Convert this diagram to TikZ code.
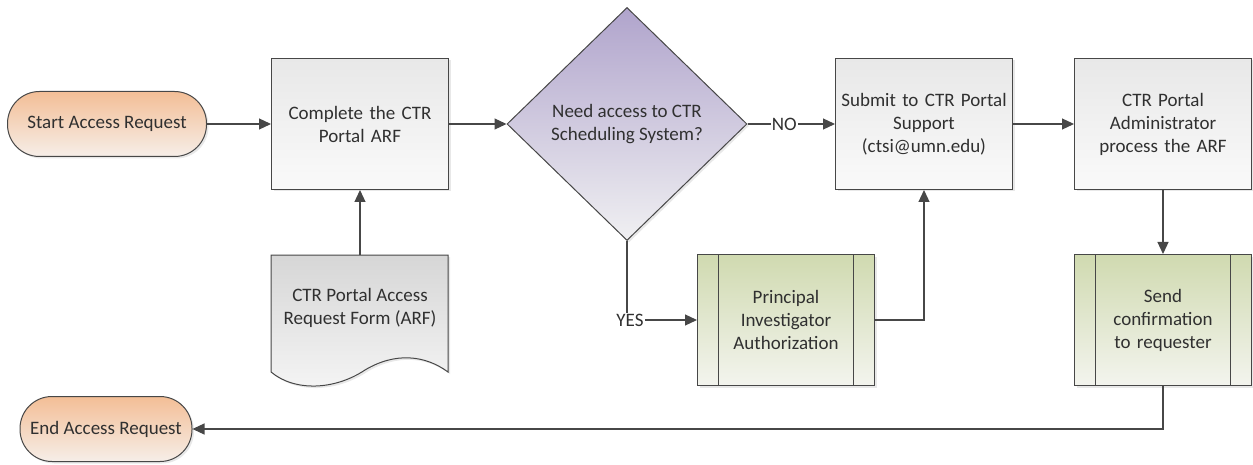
\documentclass[tikz,border=0pt]{standalone}
\usepackage{fontspec}
\setmainfont{Carlito}
\usetikzlibrary{arrows.meta,shapes.geometric,shadows}
\definecolor{edge}{HTML}{474747}
\definecolor{txt}{HTML}{303030}
\definecolor{orangetop}{RGB}{243,190,150}
\definecolor{orangebot}{RGB}{246,238,232}
\definecolor{greentop}{RGB}{208,218,176}
\definecolor{greenbot}{RGB}{243,244,238}
\definecolor{violettop}{RGB}{176,164,204}
\definecolor{violetbot}{RGB}{240,240,242}
\begin{document}
\begin{tikzpicture}[x=1pt,y=-1pt,
  txtfont/.style={font=\fontsize{19}{23}\selectfont},
  base/.style={draw=edge,line width=1pt,text=txt,align=center,txtfont,
    drop shadow={shadow xshift=2pt,shadow yshift=-2pt,opacity=0.18}},
  terminal/.style={base,rounded corners=32pt,minimum height=65pt,
    top color=orangetop,bottom color=orangebot},
  process/.style={base,minimum width=177pt,minimum height=131pt,text width=170pt,
    top color=black!9,bottom color=black!2},
  predef/.style={base,minimum width=177pt,minimum height=131pt,text width=130pt,
    top color=greentop,bottom color=greenbot,
    path picture={\draw[edge,line width=1pt]
      ([xshift=21pt]path picture bounding box.north west) -- ([xshift=21pt]path picture bounding box.south west)
      ([xshift=-21pt]path picture bounding box.north east) -- ([xshift=-21pt]path picture bounding box.south east);}},
  decision/.style={base,diamond,inner sep=0pt,minimum width=240pt,minimum height=233pt,
    top color=violettop,bottom color=violetbot},
  flow/.style={edge,line width=1.2pt,-{Triangle[length=12pt,width=11pt]}},
  lbl/.style={fill=white,inner sep=1pt,text=txt,txtfont}]
\useasboundingbox (0,0) rectangle (1253,465);

% terminals
\node[terminal,minimum width=199pt] (start) at (107,124) {Start Access Request};
\node[terminal,minimum width=172pt] (end) at (106,429) {End Access Request};

% main row
\node[process] (complete) at (360,124) {Complete the CTR\\Portal ARF};
\node[decision] (need) at (627,124) {Need access to CTR\\Scheduling System?};
\node[process] (submit) at (924,124) {Submit to CTR Portal\\Support\\(ctsi@umn.edu)};
\node[process] (admin) at (1163,124) {CTR Portal\\Administrator\\process the ARF};

% paper form with a wavy lower edge
\draw[edge,line width=1pt,top color=black!16,bottom color=black!4,
  drop shadow={shadow xshift=2pt,shadow yshift=-2pt,opacity=0.18}]
  (271,255) -- (448,255) -- (448,372)
  .. controls (425,355) and (395,352) .. (365,370)
  .. controls (335,390) and (295,392) .. (271,372) -- cycle;
\coordinate (formtop) at (360,255);
\node[text=txt,align=center,txtfont] (form) at (360,308)
  {CTR Portal Access\\Request Form (ARF)};

% lower row
\node[predef] (pi) at (786,320) {Principal\\Investigator\\Authorization};
\node[predef] (send) at (1163,320) {Send\\confirmation\\to requester};

% connectors
\draw[flow] (start) -- (complete);
\draw[flow] (complete) -- (need);
\draw[flow] (need.east) -- (submit.west) node[lbl,pos=0.42] {NO};
\draw[flow] (need.south) |- (pi.west) node[lbl,pos=0.5,inner sep=1pt,xshift=3pt] {YES};
\draw[flow] (pi.east) -| (submit.south);
\draw[flow] (formtop) -- (complete.south);
\draw[flow] (submit) -- (admin);
\draw[flow] (admin) -- (send);
\draw[flow] (send.south) |- (end.east);
\end{tikzpicture}
\end{document}
